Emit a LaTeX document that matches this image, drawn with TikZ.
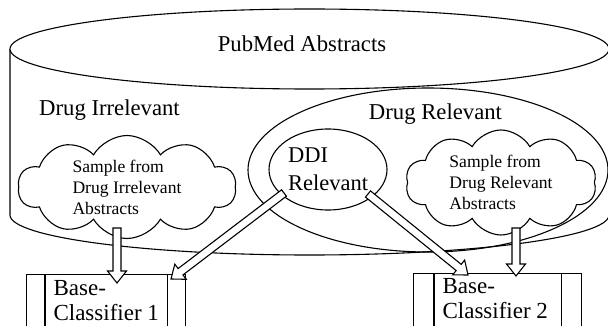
\documentclass[tikz,border=0pt]{standalone}
\usepackage{fontspec}
\setmainfont{Liberation Serif}
\usetikzlibrary{
  shapes.geometric,
  shapes.symbols,
  calc,
}

\tikzset{
  biglabel/.style={anchor=base, inner sep=0pt, font=\fontsize{22.7pt}{27pt}\selectfont},
  puff/.style={cloud, draw, fill=white, cloud puffs=10, cloud puff arc=120,
    cloud ignores aspect, inner sep=0pt, align=left,
    font=\fontsize{17.6pt}{21pt}\selectfont},
  ddibox/.style={ellipse, draw, fill=white, inner sep=0pt, align=left,
    minimum width=118pt, minimum height=81pt,
    font=\fontsize{22.5pt}{28pt}\selectfont},
  procbox/.style={rectangle, draw, fill=white, anchor=north west, minimum height=70pt},
  boxtext/.style={anchor=north west, inner sep=0pt, align=left,
    font=\fontsize{23pt}{25pt}\selectfont},
  hollow/.style={draw, fill=white, line join=miter},
}

% hollow block arrow from #1 to the tip #2
\newcommand\blockarrow[2]{%
  \coordinate (ba-h) at ($(#2)!12pt!(#1)$);
  \draw[hollow] ($(#1)!4pt!90:(#2)$) -- ($(ba-h)!4pt!90:(#2)$)
    -- ($(ba-h)!9.5pt!90:(#2)$) -- (#2) -- ($(ba-h)!9.5pt!-90:(#2)$)
    -- ($(ba-h)!4pt!-90:(#2)$) -- ($(#1)!4pt!-90:(#2)$) -- cycle;
}

\begin{document}
\begin{tikzpicture}[x=1pt, y=-1pt, line width=1.1pt]
\clip (0,0) rectangle (608,326);

% the database
\draw (10,49) -- (10,215) arc[start angle=180, end angle=360, x radius=299.5pt, y radius=40pt] -- (609,49);
\draw (428,170) ellipse[x radius=180pt, y radius=82pt];
\draw[fill=white] (309.5,49) ellipse[x radius=299.5pt, y radius=40pt];

\node[biglabel] (pubmed) at (302,52) {PubMed Abstracts};
\node[biglabel] (irrel) at (109.5,116) {Drug Irrelevant};
\node[biglabel] (rel) at (435.5,120) {Drug Relevant};

\node[puff, minimum width=218pt, minimum height=103pt] (irr-sample) at (127,187)
  {Sample from\\Drug Irrelevant\\Abstracts};
\node[puff, minimum width=191pt, minimum height=105pt] (rel-sample) at (501,182.5)
  {Sample from\\Drug Relevant\\Abstracts};
\node[ddibox] (ddi) at (328,169.5) {DDI\\Relevant};

% base classifiers
\node[procbox, minimum width=159pt] (bc1) at (26,274) {};
\node[procbox, minimum width=168pt] (bc2) at (413,273) {};
\draw ([xshift=19pt]bc1.north west) -- ([xshift=19pt]bc1.south west)
  ([xshift=-19pt]bc1.north east) -- ([xshift=-19pt]bc1.south east);
\draw ([xshift=21pt]bc2.north west) -- ([xshift=21pt]bc2.south west)
  ([xshift=-21pt]bc2.north east) -- ([xshift=-21pt]bc2.south east);
\node[boxtext] (bc1-text) at (53,279.6) {Base-\\Classifier 1};
\node[boxtext] (bc2-text) at (442,278) {Base-\\Classifier 2};

% arrows
\coordinate (irr-out) at (117,228);
\coordinate (bc1-in) at (117,283);
\coordinate (rel-out) at (516,228);
\coordinate (bc2-in) at (516,276);
\coordinate (ddi-left) at (284,193);
\coordinate (bc1-diag) at (171,279);
\coordinate (ddi-right) at (368,194);
\coordinate (bc2-diag) at (468,275);
\blockarrow{irr-out}{bc1-in}
\blockarrow{rel-out}{bc2-in}
\blockarrow{ddi-left}{bc1-diag}
\blockarrow{ddi-right}{bc2-diag}
\end{tikzpicture}
\end{document}
